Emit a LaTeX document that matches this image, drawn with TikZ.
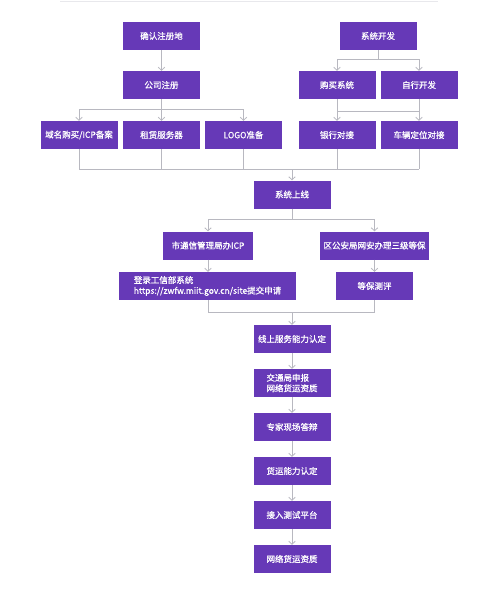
\documentclass[tikz,border=0pt]{standalone}
\usepackage{fontspec}
\setmainfont{Noto Sans CJK SC}
\newfontfamily\boxfont{Noto Sans CJK SC}[FakeBold=0.8]
\usetikzlibrary{arrows.meta}
\definecolor{pbox}{HTML}{6639B7}
\definecolor{lgray}{HTML}{B8B8C0}
\definecolor{topline}{HTML}{E8E8EC}
\begin{document}
\begin{tikzpicture}[x=1pt,y=-1pt,
 box/.style={fill=pbox, text=white, minimum height=28pt, minimum width=77pt, inner sep=0pt,
   font=\boxfont\fontsize{8.5}{10.5}\selectfont, align=center},
 conn/.style={draw=lgray, line width=0.8pt},
 arr/.style={conn, -{Straight Barb[length=3pt,width=6.5pt]}}]
\fill[white] (0,0) rectangle (499,589);
\useasboundingbox (0,0) rectangle (499,589);
\draw[draw=topline, line width=1pt] (60,1) -- (438,1);

% top rows
\node[box] (a1) at (161.5,36) {确认注册地};
\node[box] (b1) at (378,36) {系统开发};
\node[box] (a2) at (161.5,85) {公司注册};
\node[box] (b2) at (337,85) {购买系统};
\node[box] (b3) at (419,85) {自行开发};
\node[box] (r1) at (79,135) {域名购买/ICP备案};
\node[box] (r2) at (161.5,135) {租赁服务器};
\node[box] (r3) at (243.5,135) {LOGO准备};
\node[box] (r4) at (337,135) {银行对接};
\node[box] (r5) at (419,135) {车辆定位对接};
\node[box] (s1) at (292,194.5) {系统上线};
\node[box, minimum width=90pt] (c1) at (208,245.5) {市通信管理局办ICP};
\node[box, minimum width=109pt] (d1) at (374.5,245.5) {区公安局网安办理三级等保};
\node[box, minimum width=177pt, align=left] (c2) at (207.5,286) {登录工信部系统\\https://zwfw.miit.gov.cn/site提交申请};
\node[box] (d2) at (374.5,286) {等保测评};
\node[box] (m1) at (292,339) {线上服务能力认定};
\node[box, align=left] (m2) at (292,383) {交通局申报\\网络货运资质};
\node[box] (m3) at (292,427) {专家现场答辩};
\node[box] (m4) at (292,471) {货运能力认定};
\node[box] (m5) at (292,515) {接入测试平台};
\node[box] (m6) at (292,559) {网络货运资质};

% connectors
\draw[arr] (a1) -- (a2);
\coordinate (ja) at (161.5,109);
\draw[conn] (a2.south) -- (ja);
\draw[conn] (r1.north |- ja) -- (r3.north |- ja);
\draw[arr] (r1.north |- ja) -- (r1.north);
\draw[arr] (ja) -- (r2.north);
\draw[arr] (r3.north |- ja) -- (r3.north);

\coordinate (jb) at (378,59);
\draw[conn] (b1.south) -- (jb);
\draw[conn] (b2.north |- jb) -- (b3.north |- jb);
\draw[arr] (b2.north |- jb) -- (b2.north);
\draw[arr] (b3.north |- jb) -- (b3.north);

\coordinate (jc) at (378,111);
\draw[conn] (b2.south) -- (b2.south |- jc);
\draw[conn] (b3.south) -- (b3.south |- jc);
\draw[conn] (b2.south |- jc) -- (b3.south |- jc);
\draw[arr] (b2.south |- jc) -- (r4.north);
\draw[arr] (b3.south |- jc) -- (r5.north);

\coordinate (jd) at (292,169);
\foreach \n in {r1,r2,r3,r4,r5} \draw[conn] (\n.south) -- (\n.south |- jd);
\draw[conn] (r1.south |- jd) -- (r5.south |- jd);
\draw[arr] (jd) -- (s1.north);

\coordinate (je) at (292,219);
\draw[conn] (s1.south) -- (je);
\draw[conn] (c1.north |- je) -- (d1.north |- je);
\draw[arr] (c1.north |- je) -- (c1.north);
\draw[arr] (d1.north |- je) -- (d1.north);

\draw[arr] (c1) -- (c1 |- c2.north);
\draw[arr] (d1) -- (d2);

\coordinate (jf) at (292,312);
\draw[conn] (c1 |- c2.south) -- (c1 |- jf);
\draw[conn] (d2.south) -- (d2.south |- jf);
\draw[conn] (c1 |- jf) -- (d2.south |- jf);
\draw[arr] (jf) -- (m1.north);

\draw[arr] (m1) -- (m2);
\draw[arr] (m2) -- (m3);
\draw[arr] (m3) -- (m4);
\draw[arr] (m4) -- (m5);
\draw[arr] (m5) -- (m6);
\end{tikzpicture}
\end{document}
